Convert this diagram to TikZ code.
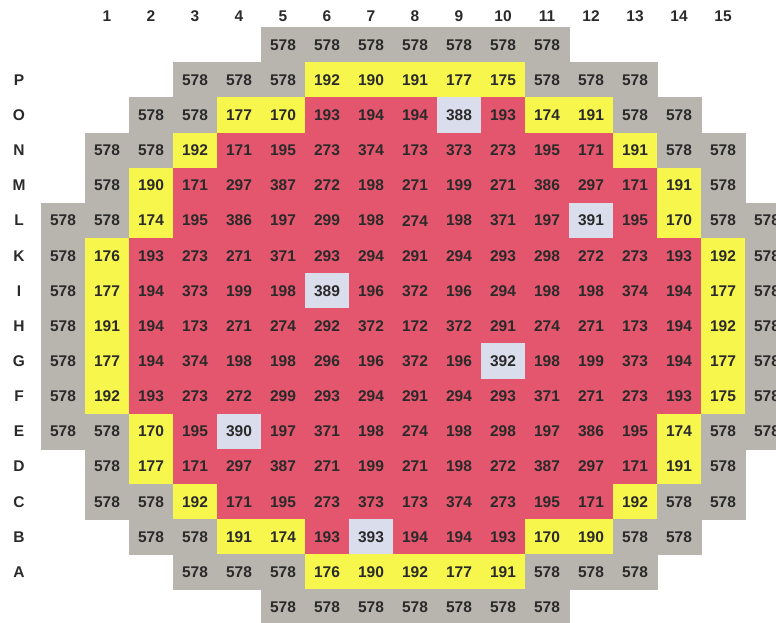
\documentclass[tikz,border=0pt]{standalone}
\usepackage{fontspec}
\setmainfont{Liberation Sans}
\definecolor{gry}{HTML}{B8B5AE}
\definecolor{yel}{HTML}{F6F64C}
\definecolor{red}{HTML}{E4566D}
\definecolor{blu}{HTML}{D9DDEC}
\definecolor{txt}{HTML}{2A2A2A}
\tikzset{
  cell/.style={minimum width=44pt, minimum height=35.13pt, inner sep=0pt, line width=0.4pt,
    font=\fontsize{15.5}{16}\selectfont\bfseries, text=txt},
  cg/.style={fill=gry, draw=gry},
  cy/.style={fill=yel, draw=yel},
  cr/.style={fill=red, draw=red},
  cb/.style={fill=blu, draw=blu},
  lab/.style={inner sep=0pt, font=\fontsize{15.5}{16}\selectfont\bfseries, text=txt}
}
\begin{document}
\begin{tikzpicture}[x=1pt,y=1pt]
\useasboundingbox (0,0) rectangle (776,623);
\clip (0,0) rectangle (776,623);
\foreach \r/\s/\cells in {
 0/5/{578/cg,578/cg,578/cg,578/cg,578/cg,578/cg,578/cg},
 1/3/{578/cg,578/cg,578/cg,192/cy,190/cy,191/cy,177/cy,175/cy,578/cg,578/cg,578/cg},
 2/2/{578/cg,578/cg,177/cy,170/cy,193/cr,194/cr,194/cr,388/cb,193/cr,174/cy,191/cy,578/cg,578/cg},
 3/1/{578/cg,578/cg,192/cy,171/cr,195/cr,273/cr,374/cr,173/cr,373/cr,273/cr,195/cr,171/cr,191/cy,578/cg,578/cg},
 4/1/{578/cg,190/cy,171/cr,297/cr,387/cr,272/cr,198/cr,271/cr,199/cr,271/cr,386/cr,297/cr,171/cr,191/cy,578/cg},
 5/0/{578/cg,578/cg,174/cy,195/cr,386/cr,197/cr,299/cr,198/cr,274/cr,198/cr,371/cr,197/cr,391/cb,195/cr,170/cy,578/cg,578/cg},
 6/0/{578/cg,176/cy,193/cr,273/cr,271/cr,371/cr,293/cr,294/cr,291/cr,294/cr,293/cr,298/cr,272/cr,273/cr,193/cr,192/cy,578/cg},
 7/0/{578/cg,177/cy,194/cr,373/cr,199/cr,198/cr,389/cb,196/cr,372/cr,196/cr,294/cr,198/cr,198/cr,374/cr,194/cr,177/cy,578/cg},
 8/0/{578/cg,191/cy,194/cr,173/cr,271/cr,274/cr,292/cr,372/cr,172/cr,372/cr,291/cr,274/cr,271/cr,173/cr,194/cr,192/cy,578/cg},
 9/0/{578/cg,177/cy,194/cr,374/cr,198/cr,198/cr,296/cr,196/cr,372/cr,196/cr,392/cb,198/cr,199/cr,373/cr,194/cr,177/cy,578/cg},
 10/0/{578/cg,192/cy,193/cr,273/cr,272/cr,299/cr,293/cr,294/cr,291/cr,294/cr,293/cr,371/cr,271/cr,273/cr,193/cr,175/cy,578/cg},
 11/0/{578/cg,578/cg,170/cy,195/cr,390/cb,197/cr,371/cr,198/cr,274/cr,198/cr,298/cr,197/cr,386/cr,195/cr,174/cy,578/cg,578/cg},
 12/1/{578/cg,177/cy,171/cr,297/cr,387/cr,271/cr,199/cr,271/cr,198/cr,272/cr,387/cr,297/cr,171/cr,191/cy,578/cg},
 13/1/{578/cg,578/cg,192/cy,171/cr,195/cr,273/cr,373/cr,173/cr,374/cr,273/cr,195/cr,171/cr,192/cy,578/cg,578/cg},
 14/2/{578/cg,578/cg,191/cy,174/cy,193/cr,393/cb,194/cr,194/cr,193/cr,170/cy,190/cy,578/cg,578/cg},
 15/3/{578/cg,578/cg,578/cg,176/cy,190/cy,192/cy,177/cy,191/cy,578/cg,578/cg,578/cg},
 16/5/{578/cg,578/cg,578/cg,578/cg,578/cg,578/cg,578/cg}} {
  \foreach \v/\k [count=\i from 0] in \cells {
    \pgfmathtruncatemacro\cc{\s+\i}
    \node[cell,\k] (n-\r-\cc) at ({63+44*\cc},{578-35.13*\r}) {\v};
  }
}
\foreach \c in {1,...,15} {
  \node[lab] (col-\c) at ({63+44*\c},607) {\c};
}
\foreach \r/\l in {1/P,2/O,3/N,4/M,5/L,6/K,7/I,8/H,9/G,10/F,11/E,12/D,13/C,14/B,15/A} {
  \node[lab] (row-\r) at (19,{578-35.13*\r}) {\l};
}
\end{tikzpicture}
\end{document}
